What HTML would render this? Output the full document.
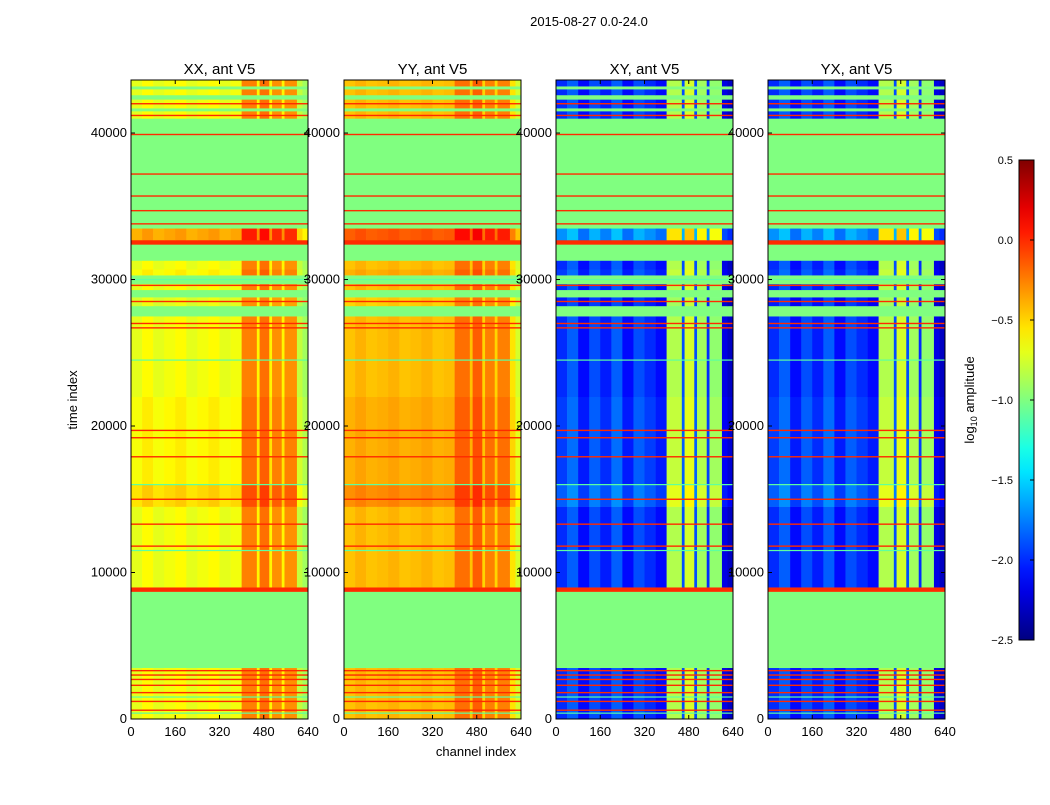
<!DOCTYPE html>
<html><head><meta charset="utf-8"><style>
body{margin:0;background:#fff;font-family:"Liberation Sans",sans-serif;}
svg text{font-family:"Liberation Sans",sans-serif;}
</style></head><body>
<svg id="fig" width="1050" height="800" xmlns="http://www.w3.org/2000/svg">
<rect width="1050" height="800" fill="#fff"/>
<text x="589" y="26" font-size="13" text-anchor="middle">2015-08-27 0.0-24.0</text>
<text transform="translate(77,400) rotate(-90)" font-size="13" text-anchor="middle">time index</text>
<text x="476" y="756" font-size="13" text-anchor="middle">channel index</text>
<g id="panels"></g>
<g id="cbar"></g>
</svg>
<script>
// ---- data ----
const panelTitles = ["XX, ant V5","YY, ant V5","XY, ant V5","YX, ant V5"];
const colEdges = [0,40,80,120,160,200,240,280,320,360,400,455,465,500,510,545,555,600,620,640];
const colXX = [-0.7,-0.62,-0.7,-0.66,-0.62,-0.7,-0.66,-0.62,-0.7,-0.66,-0.25,-0.6,-0.2,-0.6,-0.3,-0.6,-0.3,-0.8,-0.9];
const colYY = [-0.45,-0.4,-0.45,-0.43,-0.4,-0.45,-0.43,-0.4,-0.45,-0.43,-0.2,-0.45,-0.15,-0.5,-0.25,-0.5,-0.25,-0.55,-0.75];
const colXY = [-2.0,-1.85,-2.1,-1.9,-2.05,-1.85,-2.1,-1.9,-2.0,-2.1,-0.85,-1.9,-0.75,-1.9,-0.9,-2.0,-0.95,-2.2,-2.3];
const colYX = [-2.0,-1.85,-2.1,-1.9,-2.05,-1.85,-2.1,-1.9,-2.0,-2.1,-0.85,-1.9,-0.75,-1.9,-0.9,-2.0,-0.95,-2.2,-2.3];
const segT0 = [0,3500,8700,9000,14500,16000,22000,27500,28200,28800,29300,29700,30300,30700,31300,32400,32700,33500,41000,41500,41700,42300,42600,43000,43200];
const segT1 = [3500,8700,9000,14500,16000,22000,27500,28200,28800,29300,29700,30300,30700,31300,32400,32700,33500,41000,41500,41700,42300,42600,43000,43200,43600];
const segKind = ["d","g","r","d","d","d","d","g","d","g","d","g","d","d","g","r","d","g","d","g","d","g","d","g","d"];
const segOff = [0.0,0,0,0.0,0.15,0.05,0.0,0,-0.05,0,0,0,0.05,0,0,0,0.3,0,0,0,0.0,0,0,0,0];
const redLines = [600,1200,1800,2300,2700,3000,3300,11800,13300,15000,17900,19200,19700,26700,27000,28500,29600,33800,34700,35700,37200,39900,41200,42000];
const greenLines = [400,1500,11500,16000,24500,30000];
const tickY = [0,10000,20000,30000,40000];
const tickX = [0,160,320,480,640];
const cbTicks = [0.5,0.0,-0.5,-1.0,-1.5,-2.0,-2.5];
const cbLabels = ["0.5","0.0","\u22120.5","\u22121.0","\u22121.5","\u22122.0","\u22122.5"];
// ---- layout ----
const panelX = [131,344,556,768], pw = 177, yTop = 80, yBot = 719, tMax = 43620, chMax = 640;
const vmin=-2.5, vmax=0.5;
const NS="http://www.w3.org/2000/svg";
function jet(v){let x=(v-vmin)/(vmax-vmin);x=Math.max(0,Math.min(1,x));
 const c=t=>Math.round(255*Math.max(0,Math.min(1,1.5-Math.abs(t))));
 return `rgb(${c(4*x-3)},${c(4*x-2)},${c(4*x-1)})`;}
const yS=t=>yBot-(t/tMax)*(yBot-yTop);
function mk(tag,attrs,parent){const e=document.createElementNS(NS,tag);for(const k in attrs)e.setAttribute(k,attrs[k]);parent.appendChild(e);return e;}
const cols=[colXX,colYY,colXY,colYX];
const G=document.getElementById('panels');
panelTitles.forEach((title,p)=>{
 const x0=panelX[p], xS=c=>x0+c/chMax*pw;
 const g=mk('g',{},G);
 
 
 const prof=cols[p];
 for(let s=0;s<segT0.length;s++){
  const y1=yS(segT1[s]), y2=yS(segT0[s]);
  if(segKind[s]!=='d'){
   const r=mk('rect',{x:x0,y:y1,width:pw,height:y2-y1+0.3,fill:jet(segKind[s]==='g'?-1.0:0.0)},g);
   
   
   continue;}
  for(let c=0;c<prof.length;c++){
   const a=xS(colEdges[c]), b=xS(colEdges[c+1]);
   const r=mk('rect',{x:a,y:y1,width:b-a+0.3,height:y2-y1+0.3,fill:jet(prof[c]+segOff[s])},g);
   
   
  }
 }
 redLines.forEach(t=>{const r=mk('rect',{x:x0,y:yS(t)-0.7,width:pw,height:1.4,fill:jet(0.0)},g);
  
  });
 greenLines.forEach(t=>{const r=mk('rect',{x:x0,y:yS(t)-0.6,width:pw,height:1.2,fill:jet(-1.1)},g);
  
  });
 const fr=mk('rect',{x:x0,y:yTop,width:pw,height:yBot-yTop,fill:'none',stroke:'#000','stroke-width':1},g);
 
 
 const tt=mk('text',{x:x0+pw/2,y:74,'font-size':15,'text-anchor':'middle'},g);tt.textContent=title;
 
 
 tickY.forEach(t=>{const y=yS(t);
  mk('line',{x1:x0,x2:x0+4,y1:y,y2:y,stroke:'#000'},g);mk('line',{x1:x0+pw,x2:x0+pw-4,y1:y,y2:y,stroke:'#000'},g);
  const l=mk('text',{x:x0-4,y:y+4,'font-size':13,'text-anchor':'end'},g);l.textContent=t;
  
  });
 tickX.forEach(c=>{const x=xS(c);
  mk('line',{x1:x,x2:x,y1:yBot,y2:yBot-4,stroke:'#000'},g);mk('line',{x1:x,x2:x,y1:yTop,y2:yTop+4,stroke:'#000'},g);
  const l=mk('text',{x:x,y:yBot+17,'font-size':13,'text-anchor':'middle'},g);l.textContent=c;
  
  });
});
const CB=document.getElementById('cbar'), cx=1019, cw=15, cTop=160, cBot=640;
const cy=v=>cBot-(v-vmin)/(vmax-vmin)*(cBot-cTop);
const defs=mk('defs',{},CB);const lg=mk('linearGradient',{id:'jg',x1:0,y1:1,x2:0,y2:0},defs);
for(let i=0;i<=20;i++){mk('stop',{offset:i/20,'stop-color':jet(vmin+i/20*(vmax-vmin))},lg);}
mk('rect',{x:cx,y:cTop,width:cw,height:cBot-cTop,fill:'url(#jg)',stroke:'#000'},CB);
cbTicks.forEach((v,i)=>{const y=cy(v);
 mk('line',{x1:cx+cw-4,x2:cx+cw,y1:y,y2:y,stroke:'#000'},CB);
 const l=mk('text',{x:1013,y:y+4,'font-size':11,'text-anchor':'end'},CB);l.textContent=cbLabels[i];
 
 });
const cl=mk('text',{transform:'translate(974,400) rotate(-90)','font-size':13,'text-anchor':'middle'},CB);
cl.innerHTML='log<tspan font-size="9" dy="3">10</tspan><tspan dy="-3"> amplitude</tspan>';


</script>
</body></html>
